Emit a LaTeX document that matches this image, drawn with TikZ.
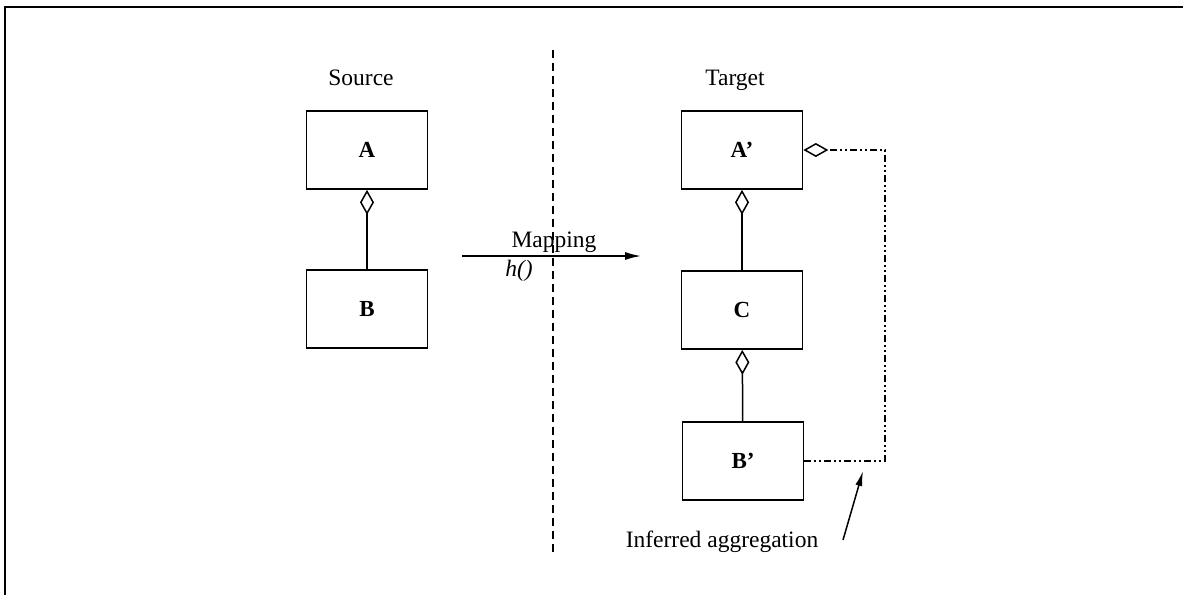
\documentclass[tikz,border=0pt]{standalone}
\usepackage{fontspec}
\setmainfont{Liberation Serif}
\usepackage{tikz}
\usetikzlibrary{arrows.meta}

\tikzset{
  classbox/.style={draw,line width=1.7pt,minimum width=121pt,minimum height=78pt,
    font=\fontsize{23}{27}\selectfont\bfseries},
  lbl/.style={font=\fontsize{23.5}{27}\selectfont},
  aggr/.style={line width=1.5pt,-{Diamond[open,length=25pt,width=14pt,line width=1.5pt]}},
  infer/.style={line width=1.5pt,dash pattern=on 7pt off 3pt on 2pt off 3pt on 2pt off 3pt}
}

\begin{document}
\begin{tikzpicture}[x=1pt,y=-1pt]
\useasboundingbox (0,0) rectangle (1183,595);

\draw[line width=1.8pt] (5,595) -- (5,7) -- (1183,7);

%%%%%%%%%%%%%%%%%%%%% source side
\node[lbl] (srclbl) at (361,78) {Source};
\node[classbox] (a) at (367,150) {A};
\node[classbox] (b) at (367,309) {B};
\draw[aggr] (b) -- (a);

%%%%%%%%%%%%%%%%%%%%% split line and mapping
\coordinate (cuttop) at (553,50);\coordinate (cutbot) at (553,556);
\draw[line width=1.4pt,dash pattern=on 8pt off 5pt] (cuttop) to (cutbot);
\coordinate (mapstart) at (462,256);\coordinate (mapend) at (641,256);
\draw[line width=1.5pt,-{Latex[length=16pt,width=8pt]}] (mapstart) to (mapend);
\node[lbl] (maplbl) at (554,242) {Mapping};
\node[lbl] (hlbl) at (519,271) {\itshape h()};

%%%%%%%%%%%%%%%%%%%%% target side
\node[lbl] (tgtlbl) at (735,80) {Target};
\node[classbox] (ap) at (742,150) {A'};
\node[classbox] (c) at (742,310) {C};
\node[classbox] (bp) at (743,461) {B'};
\draw[aggr] (c) -- (ap);
\draw[aggr] (bp) -- (c);

%%%%%%%%%%%%%%%%%%%%% inferred one
\coordinate (corner) at (885,461);
\draw[infer,-{Diamond[open,length=25pt,width=14pt,line width=1.5pt]}] (bp.east) -- (corner) |- (ap.east);
\coordinate (pointer) at (843,540);\coordinate (pointtip) at (863,471);
\draw[line width=1.5pt,-{Latex[length=15pt,width=7pt]}] (pointer) to (pointtip);
\node[lbl] (inflbl) at (722,542) {Inferred aggregation};

\end{tikzpicture}
\end{document}
